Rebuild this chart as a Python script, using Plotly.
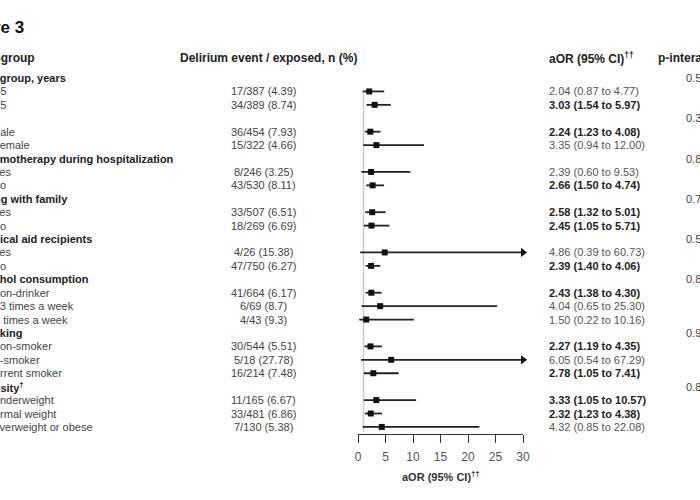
import plotly.graph_objects as go

# ---------------- data ----------------
headers = ["Age group, years", "Sex", "Chemotherapy during hospitalization",
           "Living with family", "Medical aid recipients", "Alcohol consumption",
           "Smoking", "Obesity<sup>†</sup>"]
p_interaction = ["0.5", "0.3", "0.8", "0.7", "0.5", "0.8", "0.9", "0.8"]
subgroups = [["<65", "≥65"], ["Male", "Female"], ["Yes", "No"], ["Yes", "No"],
             ["Yes", "No"], ["Non-drinker", "1-3 times a week", "≥4 times a week"],
             ["Non-smoker", "Ex-smoker", "Current smoker"],
             ["Underweight", "Normal weight", "Overweight or obese"]]
events = ["17/387 (4.39)", "34/389 (8.74)", "36/454 (7.93)", "15/322 (4.66)",
          "8/246 (3.25)", "43/530 (8.11)", "33/507 (6.51)", "18/269 (6.69)",
          "4/26 (15.38)", "47/750 (6.27)", "41/664 (6.17)", "6/69 (8.7)",
          "4/43 (9.3)", "30/544 (5.51)", "5/18 (27.78)", "16/214 (7.48)",
          "11/165 (6.67)", "33/481 (6.86)", "7/130 (5.38)"]
aor = [2.04, 3.03, 2.24, 3.35, 2.39, 2.66, 2.58, 2.45, 4.86, 2.39,
       2.43, 4.04, 1.50, 2.27, 6.05, 2.78, 3.33, 2.32, 4.32]
ci_low = [0.87, 1.54, 1.23, 0.94, 0.60, 1.50, 1.32, 1.05, 0.39, 1.40,
          1.38, 0.65, 0.22, 1.19, 0.54, 1.05, 1.05, 1.23, 0.85]
ci_high = [4.77, 5.97, 4.08, 12.00, 9.53, 4.74, 5.01, 5.71, 60.73, 4.06,
           4.30, 25.30, 10.16, 4.35, 67.29, 7.41, 10.57, 4.38, 22.08]
x_ticks = [0, 5, 10, 15, 20, 25, 30]
x_max = 30

# ---------------- layout constants ----------------
W, H = 700, 500
ROW0_PX, ROW_STEP, AXIS_PX = 78, 13.42, 434
FONT = "Liberation Sans, Arial, sans-serif"
header_clip = [-24, -23, -21, -25.5, -22, -24, -24, -21.5]
sub_clip = [-12.5, -12, -9, -6.7, -7.3, -7.9, -7.3, -7.9, -7.3, -7.9,
            -8.3, -9.8, -12.2, -8.5, -12.8, -14, -8, -14, -8.6]
X0_PX, X1_PX = 358, 523

def px(xp):
    return xp / W

def py(yp):
    return 1 - yp / H

top_val = -ROW0_PX / ROW_STEP
bot_val = (AXIS_PX - ROW0_PX) / ROW_STEP

annotations = []

def add_text(text, x_px, y, yref="y", anchor="left", size=11, color="#444"):
    annotations.append(dict(text=text, x=px(x_px), y=y, xref="paper", yref=yref,
                            xanchor=anchor, yanchor="middle", showarrow=False,
                            borderpad=0, borderwidth=0,
                            font=dict(family=FONT, size=size, color=color)))

# Title and column headers
add_text("<b>Figure 3</b>", -42.5, py(27), yref="paper", size=17, color="#111")
add_text("<b>Subgroup</b>", -22.5, py(58), yref="paper", size=12, color="#222")
add_text("<b>Delirium event / exposed, n (%)</b>", 180, py(58), yref="paper", size=12, color="#222")
add_text("<b>aOR (95% CI)<sup>††</sup></b>", 549, py(58), yref="paper", size=12, color="#222")
add_text("<b>p-interaction</b>", 658, py(58), yref="paper", size=12, color="#222")

rows_sub = []
row = 0
k = 0
for gi, h in enumerate(headers):
    add_text("<b>%s</b>" % h, header_clip[gi], row, color="#222")
    add_text(p_interaction[gi], 686, row, color="#444")
    row += 1
    for s in subgroups[gi]:
        add_text(s, sub_clip[k], row, color="#444")
        add_text(events[k], 263.5, row, anchor="center", color="#444")
        txt = "%.2f (%.2f to %.2f)" % (aor[k], ci_low[k], ci_high[k])
        if ci_low[k] > 1:
            add_text("<b>%s</b>" % txt, 549, row, color="#222")
        else:
            add_text(txt, 549, row, color="#555")
        rows_sub.append(row)
        row += 1
        k += 1

# axis title
add_text("<b>aOR (95% CI)<sup>††</sup></b>", (X0_PX + X1_PX) / 2, py(476),
         yref="paper", anchor="center", color="#333")

fig = go.Figure()

err_plus = [min(h, x_max) - a for a, h in zip(aor, ci_high)]
err_minus = [a - l for a, l in zip(aor, ci_low)]

fig.add_trace(go.Scatter(
    x=aor, y=rows_sub, mode="markers",
    marker=dict(symbol="square", size=6, color="#111"),
    error_x=dict(type="data", symmetric=False, array=err_plus,
                 arrayminus=err_minus, width=0, thickness=1.8, color="#222"),
    cliponaxis=False, hoverinfo="skip", showlegend=False))

arrow_rows = [r for r, h in zip(rows_sub, ci_high) if h > x_max]
fig.add_trace(go.Scatter(
    x=[x_max] * len(arrow_rows), y=arrow_rows, mode="markers",
    marker=dict(symbol="triangle-right", size=8, color="#111"),
    cliponaxis=False, hoverinfo="skip", showlegend=False))

fig.add_shape(type="line", xref="x", yref="paper", x0=1, x1=1,
              y0=py(AXIS_PX - 2), y1=py(90), line=dict(color="#cfcfcf", width=1.6),
              layer="below")

fig.update_layout(
    width=W, height=H,
    margin=dict(l=0, r=0, t=0, b=0, pad=0, autoexpand=False),
    paper_bgcolor="white", plot_bgcolor="white",
    xaxis=dict(domain=[px(X0_PX), px(X1_PX)], range=[0, x_max],
               tickvals=x_ticks, ticks="outside", ticklen=8, tickwidth=1.2,
               tickcolor="#333", showline=True, linecolor="#333", linewidth=1.2,
               showgrid=False, zeroline=False, anchor="y", automargin=False,
               ticklabelstandoff=3,
               tickfont=dict(family=FONT, size=12, color="#555")),
    yaxis=dict(domain=[py(AXIS_PX), 1], range=[bot_val, top_val], visible=False,
               showgrid=False, zeroline=False, automargin=False),
    annotations=annotations,
    font=dict(family=FONT),
)

fig.write_html("out.html")
